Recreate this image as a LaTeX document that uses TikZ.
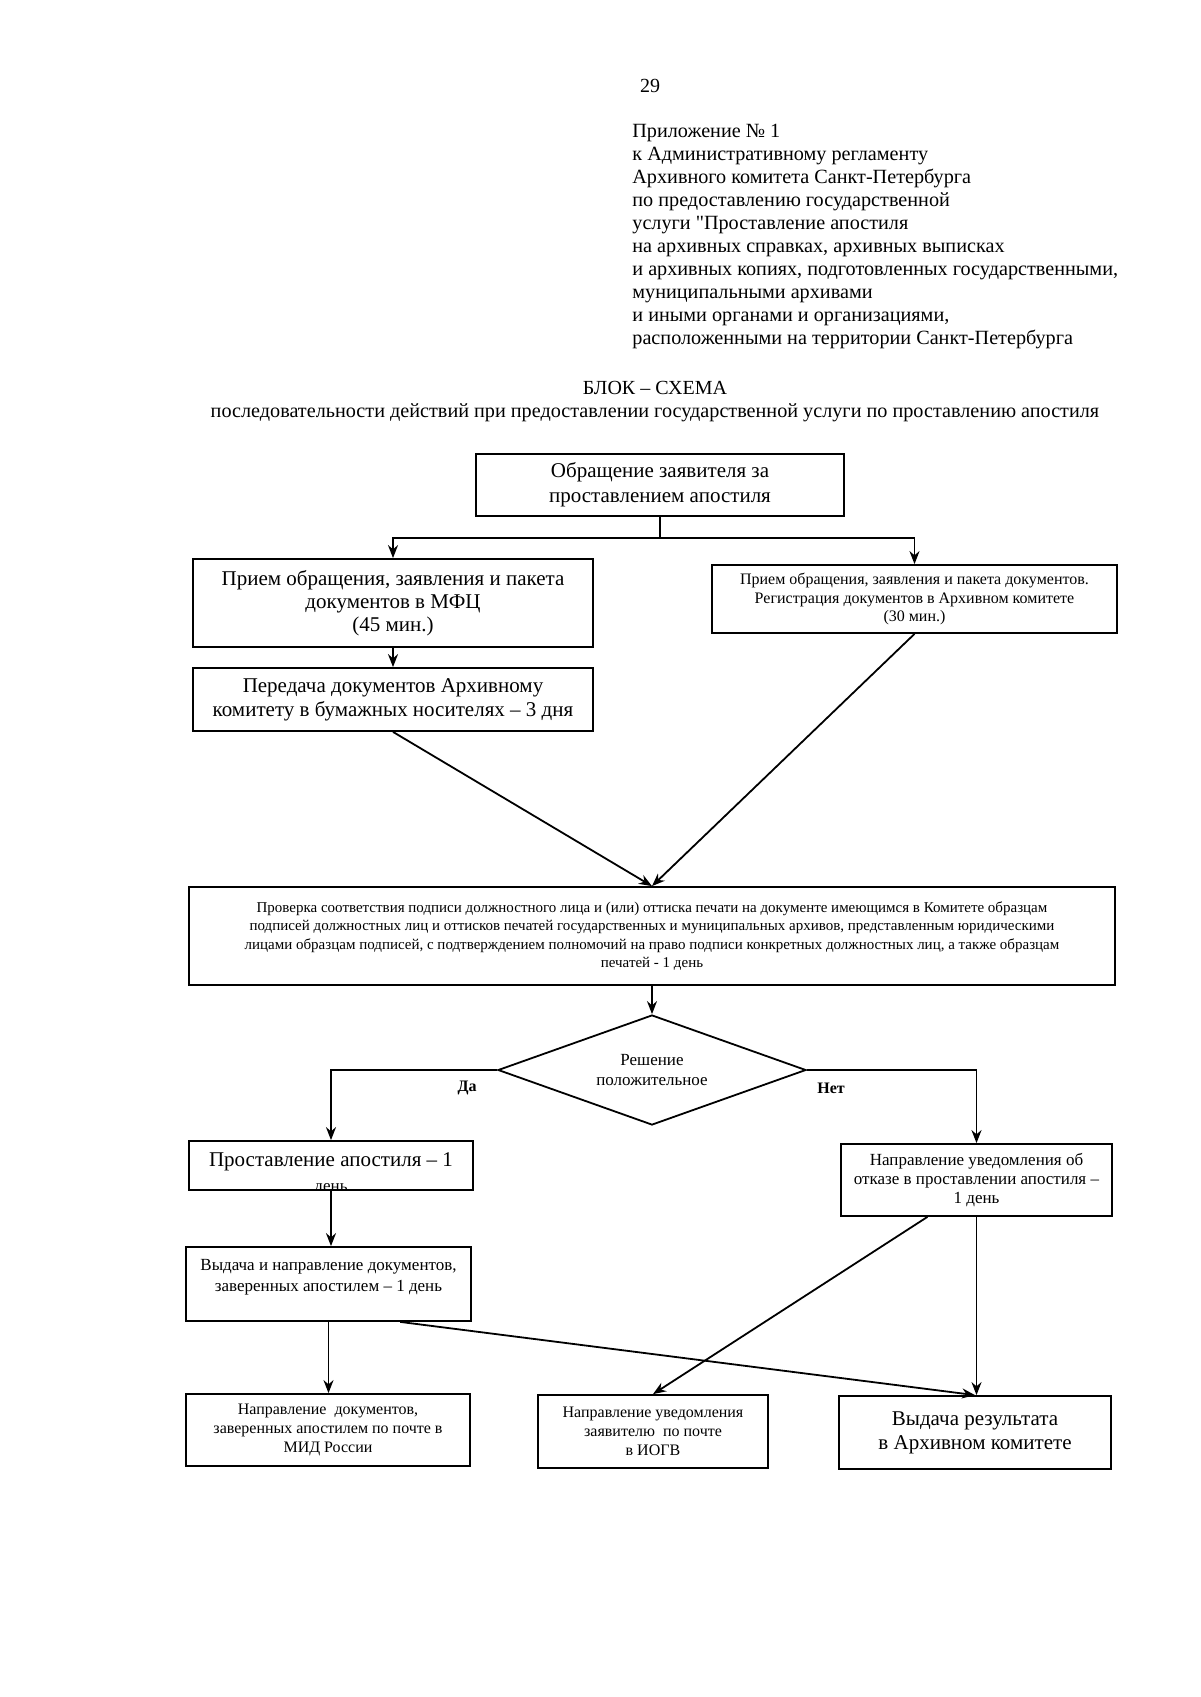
\documentclass[tikz,border=0pt]{standalone}
\usepackage{fontspec}
\setmainfont{Liberation Serif}
\newfontfamily\plainq{Liberation Serif}
\usetikzlibrary{shapes.geometric,arrows.meta,calc}
\begin{document}
\begin{tikzpicture}[x=0.5pt,y=-0.5pt,
  box/.style={draw,line width=0.9pt,align=center,inner sep=1pt},
  txt/.style={align=center,inner sep=0pt},
  arr/.style={-{Stealth[length=6.5pt,width=5pt]},line width=0.9pt},
  ln/.style={line width=0.9pt}]
\useasboundingbox[fill=white] (0,0) rectangle (1200,1697);

\node[anchor=center,font=\fontsize{10}{12}\selectfont] (pg) at (650,86) {29};
\node[anchor=north west,align=left,inner sep=0pt,font=\fontsize{10.1}{11.5}\selectfont] (hdr) at (632,124)
{Приложение № 1\\
к Административному регламенту\\
Архивного комитета Санкт-Петербурга\\
по предоставлению государственной\\
услуги {\plainq"}Проставление апостиля\\
на архивных справках, архивных выписках\\
и архивных копиях, подготовленных государственными,\\
муниципальными архивами\\
и иными органами и организациями,\\
расположенными на территории Санкт-Петербурга};

\node[txt,font=\fontsize{10}{12}\selectfont] (ttl) at (655,388) {БЛОК – СХЕМА};
\node[txt,font=\fontsize{10.1}{12}\selectfont] (sub) at (655,413) {последовательности действий при предоставлении государственной услуги по проставлению апостиля};

\node[box,minimum width=184pt,minimum height=31pt,font=\fontsize{10.5}{12.5}\selectfont] (a) at (660,485)
{Обращение заявителя за\\проставлением апостиля};
\node[box,minimum width=200pt,minimum height=44pt,font=\fontsize{10.5}{11.6}\selectfont] (b) at (393,603)
{Прием обращения, заявления и пакета\\документов в МФЦ\\(45 мин.)};
\node[box,minimum width=202.5pt,minimum height=34pt,font=\fontsize{8}{9.3}\selectfont] (c) at (914.5,599)
{Прием обращения, заявления и пакета документов.\\Регистрация документов в Архивном комитете\\(30 мин.)};
\node[box,minimum width=200pt,minimum height=31.5pt,font=\fontsize{10.5}{12}\selectfont] (d) at (393,699.5)
{Передача документов Архивному\\комитету в бумажных носителях – 3 дня};
\node[box,minimum width=463pt,minimum height=49pt,font=\fontsize{7.5}{9.2}\selectfont] (e) at (652,936)
{Проверка соответствия подписи должностного лица и (или) оттиска печати на документе имеющимся в Комитете образцам\\
подписей должностных лиц и оттисков печатей государственных и муниципальных архивов, представленным юридическими\\
лицами образцам подписей, с подтверждением полномочий на право подписи конкретных должностных лиц, а также образцам\\
печатей - 1 день};

\node[draw,line width=0.9pt,diamond,shape aspect=2.8,minimum width=154pt,minimum height=55pt,inner sep=0pt,align=center,font=\fontsize{8.5}{10}\selectfont] (dec) at (652,1070)
{Решение\\положительное};

\node[box,minimum width=142pt,minimum height=24.5pt] (f) at (331,1165.5) {};
\begin{scope}
\clip (189,1141) rectangle (473,1189);
\node[txt,font=\fontsize{10.5}{12.5}\selectfont] (ftext) at (331,1162) {Проставление апостиля – 1};
\node[txt,anchor=base,font=\fontsize{8.5}{10}\selectfont] (ftext2) at (331,1191) {день};
\end{scope}

\node[box,minimum width=135.5pt,minimum height=36pt,font=\fontsize{8.5}{9.6}\selectfont] (g) at (976.5,1180)
{Направление уведомления об\\отказе в проставлении апостиля –\\1 день};

\node[box,minimum width=142.5pt,minimum height=37pt] (h) at (328.5,1284) {};
\node[txt,anchor=north,font=\fontsize{8.5}{10.4}\selectfont] (htext) at (328.5,1259)
{Выдача и направление документов,\\заверенных апостилем – 1 день};

\node[box,minimum width=142pt,minimum height=36pt,font=\fontsize{8}{9.5}\selectfont] (i) at (328,1430)
{Направление \ документов,\\заверенных апостилем по почте в\\МИД России};
\node[box,minimum width=115pt,minimum height=36.5pt,font=\fontsize{8}{9.5}\selectfont] (j) at (653,1431.5)
{Направление уведомления\\заявителю \ по почте\\в ИОГВ};
\node[box,minimum width=136pt,minimum height=36.5pt,font=\fontsize{10.5}{12}\selectfont] (k) at (975,1432.5)
{Выдача результата\\в Архивном комитете};

\node[txt,font=\bfseries\fontsize{8}{10}\selectfont] (yes) at (467,1088) {Да};
\node[txt,font=\bfseries\fontsize{8}{10}\selectfont] (no) at (831,1088) {Нет};

% connectors
\coordinate (split) at (660,538);
\draw[ln] (a.south) -- (split);
\draw[arr] (split) -| (b.north);
\draw[arr] (split) -| (c.north);
\draw[arr] (b.south) -- (d.north);
\draw[arr] (d.south) -- (e.north);
\draw[arr] (c.south) -- (e.north);
\draw[arr] (e.south) -- (dec.north);
\draw[arr] (dec.west) -| (f.north);
\draw[arr] (dec.east) -| (g.north);
\draw[arr] (f.south) -- (f.south |- h.north);
\draw[arr] (h.south) -- (h.south |- i.north);
\draw[arr] ($(h.south west)!0.75!(h.south east)$) -- (k.north);
\draw[arr] ($(g.south west)!0.32!(g.south east)$) -- (j.north);
\draw[arr] (g.south) -- (g.south |- k.north);
\end{tikzpicture}
\end{document}
